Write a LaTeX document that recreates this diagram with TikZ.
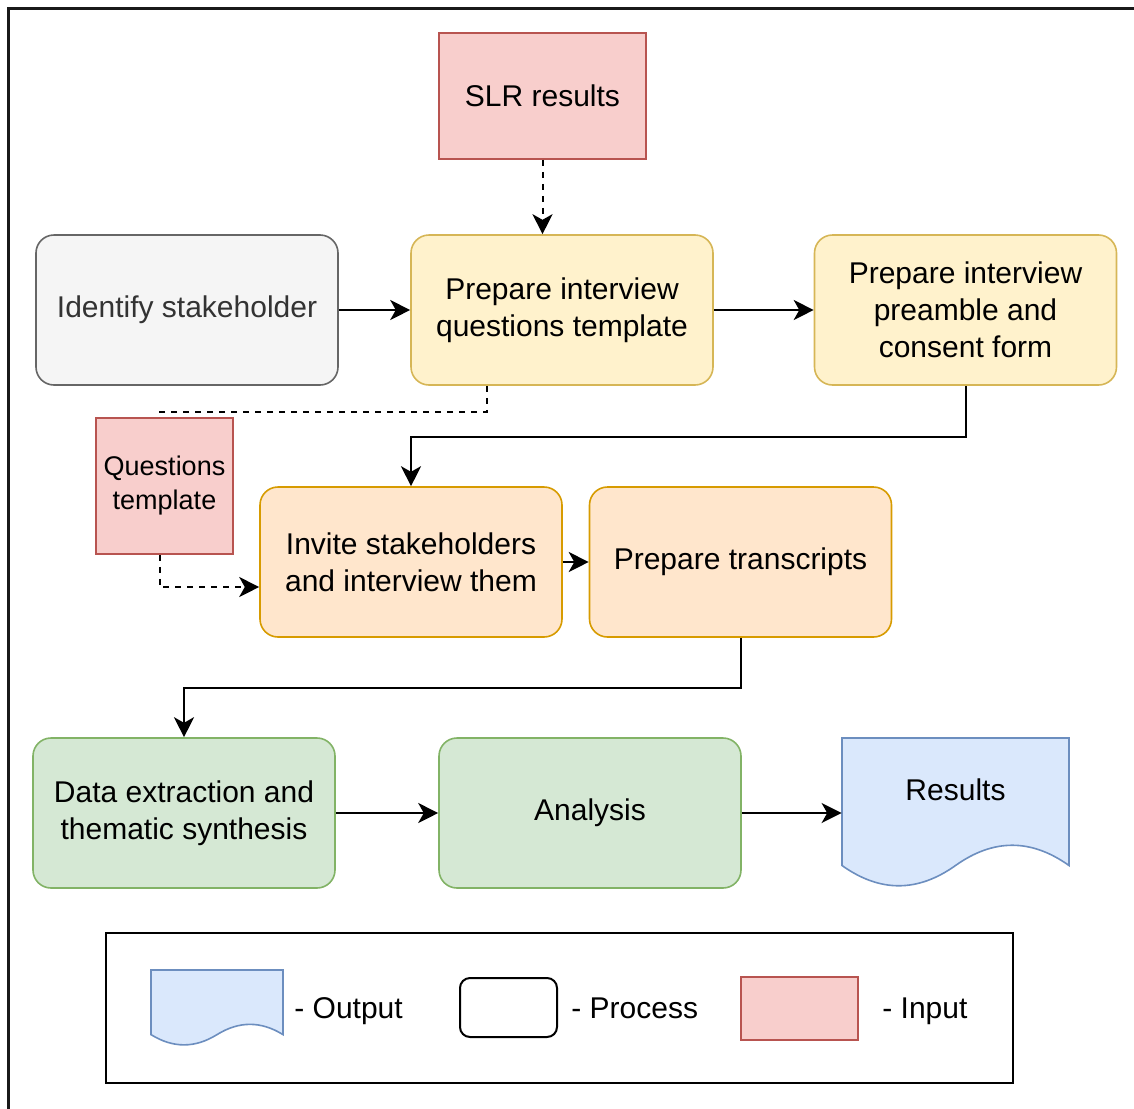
\documentclass[tikz,border=0pt]{standalone}
\usepackage{fontspec}
\setmainfont{Liberation Sans}
\usetikzlibrary{positioning, arrows.meta, calc}

\definecolor{redfill}{HTML}{F8CECC}
\definecolor{redline}{HTML}{B85450}
\definecolor{grayfill}{HTML}{F5F5F5}
\definecolor{grayline}{HTML}{666666}
\definecolor{graytext}{HTML}{333333}
\definecolor{yelfill}{HTML}{FFF2CC}
\definecolor{yelline}{HTML}{D6B656}
\definecolor{orafill}{HTML}{FFE6CC}
\definecolor{oraline}{HTML}{D79B00}
\definecolor{grnfill}{HTML}{D5E8D4}
\definecolor{grnline}{HTML}{82B366}
\definecolor{blufill}{HTML}{DAE8FC}
\definecolor{bluline}{HTML}{6C8EBF}

% document shape: left x, top y, width, height (pixel units)
\newcommand{\docshape}[4]{%
  \draw[line width=0.8pt, draw=bluline, fill=blufill]
    (#1,#2) -- ({#1+#3},#2) -- ({#1+#3},{#2+#4*0.85})
    .. controls ({#1+#3*0.833},{#2+#4*0.67}) and ({#1+#3*0.667},{#2+#4*0.67}) .. ({#1+#3*0.5},{#2+#4*0.85})
    .. controls ({#1+#3*0.333},{#2+#4*1.03}) and ({#1+#3*0.167},{#2+#4*1.03}) .. (#1,{#2+#4*0.85})
    -- cycle;}

\begin{document}
\begin{tikzpicture}[
  x=0.5pt, y=-0.5pt,
  >={Stealth[length=10pt, width=10pt, inset=2.8pt]},
  every node/.style={font=\fontsize{15}{18.5}\selectfont},
  proc/.style={draw, rounded corners=9pt, line width=0.8pt,
               minimum width=151pt, minimum height=75pt, align=center},
  startp/.style={proc, fill=grayfill, draw=grayline, text=graytext},
  prep/.style={proc, fill=yelfill, draw=yelline},
  work/.style={proc, fill=orafill, draw=oraline},
  synth/.style={proc, fill=grnfill, draw=grnline},
  inp/.style={draw=redline, fill=redfill, line width=0.8pt, align=center},
  arr/.style={->, line width=1pt},
  darr/.style={->, line width=1pt, dash pattern=on 3pt off 3pt},
  dline/.style={line width=1pt, dash pattern=on 3pt off 3pt},
  legtext/.style={anchor=base west, inner sep=0pt}
]
\useasboundingbox (0,0) rectangle (1134,1108);
\clip (0,0) rectangle (1134,1108);

%--- Frame ---
\draw[line width=1.5pt, black!90] (8,8) rectangle (1170,1140);

%--- Inputs ---
\node[inp, minimum width=103.5pt, minimum height=63pt] (slr) at (542.5,96) {SLR results};
\node[inp, minimum width=68.5pt, minimum height=68pt, inner sep=1pt,
      font=\fontsize{13.5}{17}\selectfont] (qtmpl) at (164.5,486) {Questions\\template};

%--- Row 1 ---
\node[startp] (ident) at (187,310) {Identify stakeholder};
\node[prep] (prepq) at (562,310) {Prepare interview\\questions template};
\node[prep] (pream) at (965.5,310) {Prepare interview\\preamble and\\consent form};

\draw[darr] (slr.south) -- (slr.south |- prepq.north);
\draw[arr] (ident) -- (prepq);
\draw[arr] (prepq) -- (pream);

%--- Row 2 ---
\node[work] (invite) at (411,562) {Invite stakeholders\\and interview them};
\node[work] (transc) at (740.5,562) {Prepare transcripts};

\draw[arr] (pream.south) -- ++(0,51) -| (invite.north);
\draw[dline] ($(prepq.south)+(-75,0)$) -- ++(0,26) -| ($(qtmpl.north)+(-5,0)$);
\draw[darr] ($(qtmpl.south)+(-5,0)$) |- ($(invite.west)+(0,25)$);
\draw[arr] (invite) -- (transc);

%--- Row 3 ---
\node[synth] (extract) at (184,813) {Data extraction and\\thematic synthesis};
\node[synth] (analysis) at (590,813) {Analysis};
\docshape{842}{738}{227}{150}
\node[minimum width=113.5pt, minimum height=75pt] (results) at (955.5,813) {};
\node (restext) at (955.5,790) {Results};

\draw[arr] (transc.south) -- ++(0,50) -| (extract.north);
\draw[arr] (extract) -- (analysis);
\draw[arr] (analysis) -- (results);

%--- Legend ---
\node[draw, line width=1pt, minimum width=453.5pt, minimum height=75pt] (legend) at (559.5,1008) {};
\docshape{151}{970}{132}{76}
\node[draw, rounded corners=5pt, line width=1pt, minimum width=48.5pt, minimum height=29.5pt] (legproc) at (508.5,1007.5) {};
\node[inp, minimum width=58.5pt, minimum height=31.5pt] (leginp) at (799.5,1008.5) {};
\node[legtext] (legouttext) at (294,1018) {- Output};
\node[legtext] (legproctext) at (571,1018) {- Process};
\node[legtext] (leginptext) at (882,1018) {- Input};

\end{tikzpicture}
\end{document}
